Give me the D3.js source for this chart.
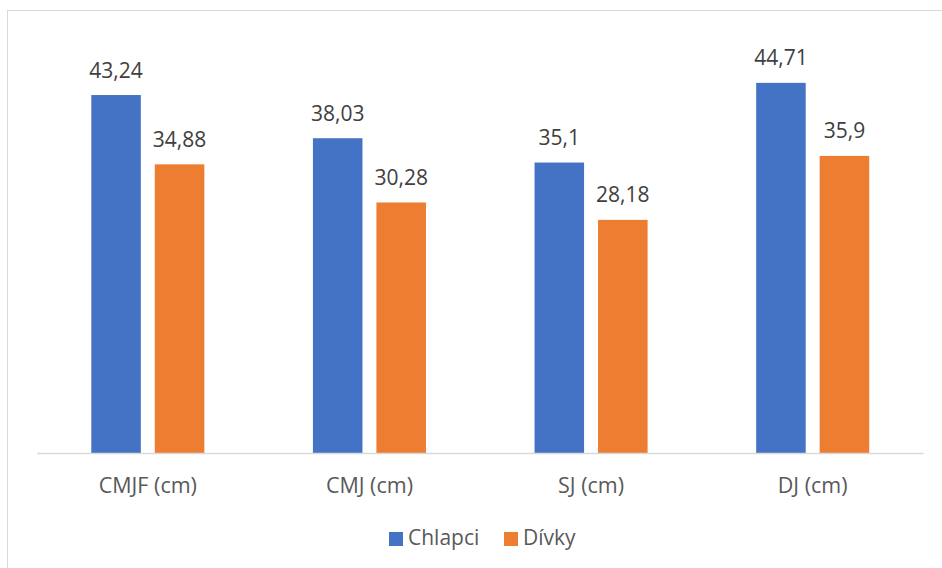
<!DOCTYPE html>
<html>
<head>
<meta charset="utf-8">
<script src="https://cdn.jsdelivr.net/npm/d3@7"></script>
<style>
  html, body { margin: 0; padding: 0; background: #fff; }
  svg { display: block; }
  text { font-family: "Open Sans", "Lato", sans-serif; }
</style>
</head>
<body>
<svg id="chart" width="942" height="568"></svg>
<script>
// Jump test results (cm), boys vs girls
const categories = ["CMJF (cm)", "CMJ (cm)", "SJ (cm)", "DJ (cm)"];
const seriesNames = ["Chlapci", "Dívky"];
const chlapci = [43.24, 38.03, 35.1, 44.71];
const divky = [34.88, 30.28, 28.18, 35.9];
const seriesColors = ["#4472C4", "#ED7D31"];

const seriesValues = [chlapci, divky];
const rows = categories.map((c, i) => ({
  category: c,
  values: seriesNames.map((s, j) => ({ series: s, value: seriesValues[j][i] }))
}));

const svg = d3.select("#chart");

// chart frame
svg.append("rect")
  .attr("x", 7.5).attr("y", 10.5)
  .attr("width", 960).attr("height", 600)
  .attr("fill", "#fff")
  .attr("stroke", "#D9D9D9").attr("stroke-width", 1);

const plot = { left: 37, right: 923.5, top: 39, bottom: 453.5 };

const x0 = d3.scaleBand()
  .domain(categories)
  .range([plot.left, plot.right])
  .paddingInner(0.49)
  .paddingOuter(0.245);

const x1 = d3.scaleBand()
  .domain(seriesNames)
  .range([0, x0.bandwidth()])
  .paddingInner(0.22);

const color = d3.scaleOrdinal().domain(seriesNames).range(seriesColors);

const y = d3.scaleLinear().domain([0, 50]).range([plot.bottom, plot.top]);

const fmt = v => String(v).replace(".", ",");

const groups = svg.append("g").selectAll("g")
  .data(rows)
  .join("g")
  .attr("transform", d => `translate(${x0(d.category)},0)`);

groups.selectAll("rect")
  .data(d => d.values)
  .join("rect")
  .attr("x", d => x1(d.series))
  .attr("y", d => y(d.value))
  .attr("width", x1.bandwidth())
  .attr("height", d => y(0) - y(d.value))
  .attr("fill", d => color(d.series));

groups.selectAll("text.val")
  .data(d => d.values)
  .join("text")
  .attr("class", "val")
  .attr("x", d => x1(d.series) + x1.bandwidth() / 2)
  .attr("y", d => y(d.value) - 17.5)
  .attr("text-anchor", "middle")
  .attr("fill", "#404040")
  .attr("font-size", 21)
  .text(d => fmt(d.value));

// category axis
const xAxis = svg.append("g")
  .attr("transform", `translate(0,${plot.bottom})`)
  .call(d3.axisBottom(x0).tickSize(0).tickPadding(0));
xAxis.select(".domain")
  .attr("d", `M${plot.left},0H${plot.right}`)
  .attr("stroke", "#D9D9D9").attr("stroke-width", 1.5);
xAxis.selectAll(".tick text")
  .attr("y", 39)
  .attr("dy", 0)
  .attr("fill", "#595959")
  .attr("font-size", 21.5)
  .style("font-family", "'Open Sans', 'Lato', sans-serif");

// legend
const legendItems = [
  { name: seriesNames[0], x: 389 },
  { name: seriesNames[1], x: 504 }
];
const legend = svg.append("g");
const li = legend.selectAll("g")
  .data(legendItems)
  .join("g")
  .attr("transform", d => `translate(${d.x},532)`);
li.append("rect")
  .attr("width", 14).attr("height", 14)
  .attr("fill", d => color(d.name));
li.append("text")
  .attr("x", 19).attr("y", 12.5)
  .attr("fill", "#595959")
  .attr("font-size", 21)
  .text(d => d.name);
</script>
</body>
</html>
